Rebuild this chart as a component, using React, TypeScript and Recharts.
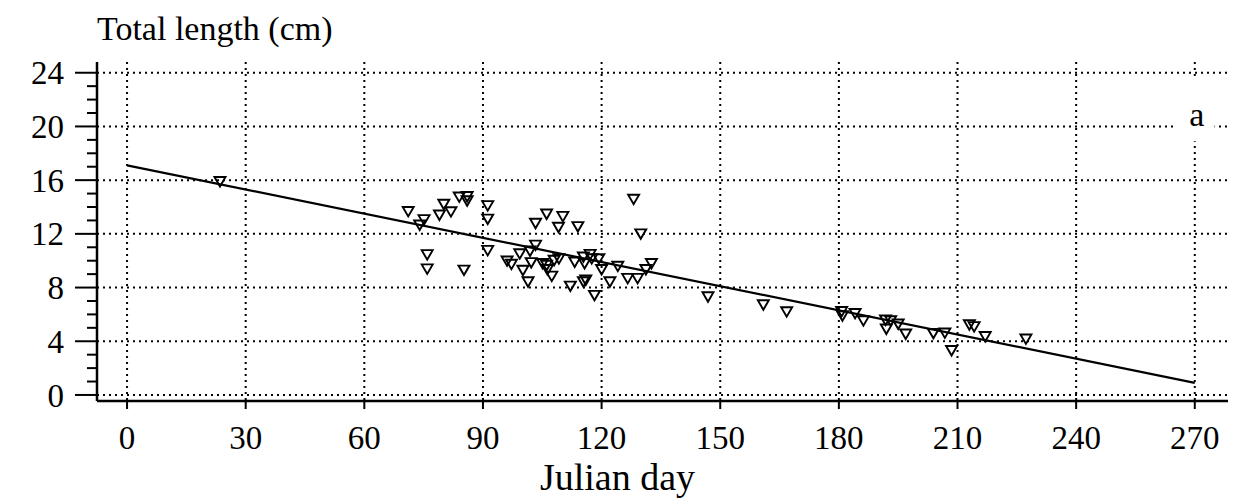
import { ComposedChart, Scatter, XAxis, YAxis, CartesianGrid, ReferenceArea, ReferenceDot } from 'recharts';

// Julian day and total length (cm) of each fish
const sampleDay = [
  23.5, 71.1, 75.1, 74.0, 75.9, 75.9, 80.1, 79.0, 81.9, 84.0, 86.0, 86.0, 85.2,
  91.2, 91.2, 91.2, 96.1, 97.2, 99.3, 101.9, 103.3, 102.2, 100.1, 101.4, 103.3,
  106.1, 109.1, 110.2, 114.0, 105.1, 106.1, 106.3, 107.4, 108.0, 109.2, 112.1,
  113.2, 115.4, 115.7, 117.1, 117.5, 116.0, 115.4, 118.2, 119.3, 120.0, 122.1,
  124.1, 126.6, 128.1, 129.1, 129.9, 131.2, 132.6, 146.9, 160.9, 166.8, 180.7,
  180.9, 184.1, 186.2, 191.8, 192.0, 193.1, 195.0, 196.9, 203.9, 206.8, 208.5,
  213.0, 214.2, 217.0, 227.3,
];
const sampleLength = [
  15.9, 13.67, 13.06, 12.66, 10.45, 9.39, 14.2, 13.4, 13.65, 14.75, 14.78, 14.46, 9.3,
  14.1, 13.1, 10.77, 9.98, 9.74, 10.52, 10.72, 11.16, 9.86, 9.29, 8.43, 12.79,
  13.48, 12.49, 13.3, 12.54, 9.79, 9.66, 9.34, 8.85, 10.03, 10.15, 8.11,
  9.9, 10.28, 9.79, 10.47, 10.15, 8.56, 8.43, 7.42, 10.15, 9.34, 8.43,
  9.59, 8.68, 14.58, 8.68, 12.0, 9.34, 9.79, 7.31, 6.72, 6.2, 6.22,
  5.9, 6.07, 5.53, 5.58, 4.91, 5.53, 5.28, 4.54, 4.59, 4.62, 3.31,
  5.23, 5.09, 4.35, 4.17,
];

// regression line end points
const fitDay = [0, 270];
const fitLength = [17.1, 0.9];

const dayTicks = [0, 30, 60, 90, 120, 150, 180, 210, 240, 270];
const lengthTicks = [0, 4, 8, 12, 16, 20, 24];
const lengthMinorTicks = Array.from({ length: 25 }, (_, i) => i);

const points = sampleDay.map((d, i) => ({ day: d, len: sampleLength[i] }));
const fit = fitDay.map((d, i) => ({ day: d, len: fitLength[i] }));

const FONT = '"Liberation Serif", "Times New Roman", serif';

const Triangle = (props: any) => {
  const { cx, cy } = props;
  return (
    <path
      d={`M${cx - 5.5},${cy - 4.5}L${cx + 5.5},${cy - 4.5}L${cx},${cy + 5}Z`}
      fill="none"
      stroke="#000"
      strokeWidth={1.9}
    />
  );
};

const LeftTick = (props: any) => {
  const { x, y, payload } = props;
  const major = payload.value % 4 === 0;
  return (
    <g>
      <line x1={x} x2={x - (major ? 22 : 10)} y1={y} y2={y} stroke="#000" strokeWidth={2} />
      {major && (
        <text x={x - 33} y={y} dy="0.35em" textAnchor="end" fontFamily={FONT} fontSize={33} fill="#000">
          {payload.value}
        </text>
      )}
    </g>
  );
};

const RightTick = (props: any) => {
  const { x, y, payload } = props;
  const major = payload.value % 4 === 0;
  return <line x1={x} x2={x + (major ? 22 : 10)} y1={y} y2={y} stroke="#000" strokeWidth={2} />;
};

const Nothing = () => <g />;

const App = () => {
  return (
    <div style={{ position: 'absolute', left: 0, top: 0, background: '#fff' }}>
      <ComposedChart width={1259} height={501} margin={{ top: 62, right: 31, bottom: 60, left: 37 }}>
        <CartesianGrid
          xAxisId="b"
          yAxisId="l"
          horizontalValues={lengthTicks}
          verticalValues={dayTicks}
          stroke="#000"
          strokeWidth={2}
          strokeDasharray="2 4"
        />
        <XAxis
          xAxisId="b"
          dataKey="day"
          type="number"
          domain={[-7.6, 278.4]}
          allowDataOverflow
          ticks={dayTicks}
          interval={0}
          height={40}
          tickSize={8}
          tickMargin={17}
          axisLine={{ stroke: '#000', strokeWidth: 2.5 }}
          tickLine={{ stroke: '#000', strokeWidth: 2 }}
          tick={{ fontFamily: FONT, fontSize: 33, fill: '#000' }}
          label={{
            content: (p: any) => (
              <text
                x={p.viewBox.x + p.viewBox.width / 2 - 45}
                y={p.viewBox.y + 89}
                textAnchor="middle"
                fontFamily={FONT}
                fontSize={38}
                fill="#000"
              >
                Julian day
              </text>
            ),
          }}
        />
        <XAxis
          xAxisId="t"
          orientation="top"
          dataKey="day"
          type="number"
          domain={[-7.6, 278.4]}
          allowDataOverflow
          ticks={dayTicks}
          interval={0}
          height={0}
          tickSize={8}
          axisLine={{ stroke: '#000', strokeWidth: 2.5 }}
          tickLine={{ stroke: '#000', strokeWidth: 2 }}
          tick={Nothing}
        />
        <YAxis
          yAxisId="l"
          dataKey="len"
          type="number"
          domain={[-0.45, 24.8]}
          allowDataOverflow
          ticks={lengthMinorTicks}
          interval={0}
          width={60}
          tickSize={0}
          tickMargin={0}
          tickLine={false}
          axisLine={{ stroke: '#000', strokeWidth: 2.5 }}
          tick={LeftTick}
          label={{
            content: (p: any) => (
              <text x={p.viewBox.x + 60} y={p.viewBox.y - 22} fontFamily={FONT} fontSize={34} fill="#000">
                Total length (cm)
              </text>
            ),
          }}
        />
        <YAxis
          yAxisId="r"
          orientation="right"
          type="number"
          domain={[-0.45, 24.8]}
          allowDataOverflow
          ticks={lengthMinorTicks}
          interval={0}
          width={0}
          tickSize={0}
          tickMargin={0}
          tickLine={false}
          axisLine={{ stroke: '#000', strokeWidth: 2.5 }}
          tick={RightTick}
        />
        <ReferenceArea xAxisId="b" yAxisId="l" x1={265} x2={275} y1={18.9} y2={23.7} fill="#fff" fillOpacity={1} stroke="none" />
        <ReferenceDot
          xAxisId="b"
          yAxisId="l"
          x={270.5}
          y={20.9}
          r={0}
          fill="none"
          stroke="none"
          label={{ value: 'a', position: 'center', fontFamily: FONT, fontSize: 34, fill: '#000' }}
        />
        <Scatter
          xAxisId="b"
          yAxisId="l"
          data={fit}
          dataKey="len"
          line={{ stroke: '#000', strokeWidth: 2.2 }}
          lineType="joint"
          shape={Nothing}
          isAnimationActive={false}
        />
        <Scatter
          xAxisId="b"
          yAxisId="l"
          data={points}
          dataKey="len"
          shape={Triangle}
          isAnimationActive={false}
        />
      </ComposedChart>
    </div>
  );
};

export default App;
